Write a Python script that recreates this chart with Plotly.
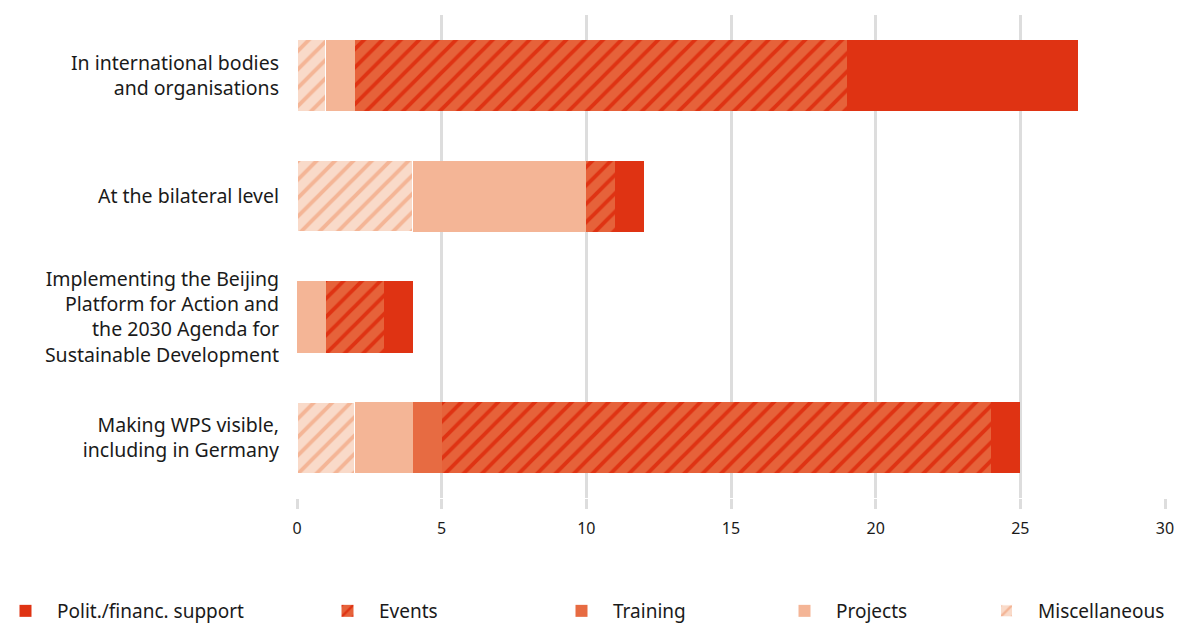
import plotly.graph_objects as go

categories = [
    "In international bodies<br>and organisations",
    "At the bilateral level",
    "Implementing the Beijing<br>Platform for Action and<br>the 2030 Agenda for<br>Sustainable Development",
    "Making WPS visible,<br>including in Germany",
]
misc = [1, 4, 0, 2]
projects = [1, 6, 1, 2]
training = [0, 0, 0, 1]
events = [17, 1, 2, 19]
polit = [8, 1, 1, 1]

x_ticks = [0, 5, 10, 15, 20, 25, 30]

FONT = "Noto Sans"

series = [
    ("Miscellaneous", misc, "#f9dac9", "#f4b596", "/", 1),
    ("Projects", projects, "#f4b596", None, "", 0),
    ("Training", training, "#e76b42", None, "", 0),
    ("Events", events, "#e6623a", "#df3313", "/", 0),
    ("Polit./financ. support", polit, "#df3313", None, "", 0),
]

# page offset of the default 8px body margin
OFF = 8
legend_pos = {
    "Polit./financ. support": ("legend", -6),
    "Events": ("legend2", 316),
    "Training": ("legend3", 550),
    "Projects": ("legend4", 773),
    "Miscellaneous": ("legend5", 975),
}

fig = go.Figure()
for name, vals, color, fg, shape, lw in series:
    marker = dict(color=color, line=dict(color="white", width=lw))
    if shape:
        marker["pattern"] = dict(shape=shape, fgcolor=fg, bgcolor=color,
                                 fgopacity=1, size=13, solidity=0.3,
                                 fillmode="overlay")
    fig.add_trace(go.Bar(
        y=categories, x=vals, name=name, orientation="h",
        marker=marker, width=0.59,
        legend=legend_pos[name][0],
    ))

W, H = 1182 - OFF, 631 - 2 * OFF
ml, mt = 297 - OFF, 15 - OFF
mr = (W + OFF) - 1165
mb = H - (498 - OFF)
pw = W - ml - mr
ph = H - mt - mb

layout_legends = {}
for name, (key, px) in legend_pos.items():
    layout_legends[key] = dict(
        x=(px - OFF - ml) / pw, xanchor="left",
        y=(mt + ph - (611 - OFF)) / ph, yanchor="middle",
        orientation="h", bgcolor="rgba(0,0,0,0)",
        font=dict(family=FONT, size=19, color="#1a1a1a"),
        itemwidth=53,
    )

fig.update_layout(
    width=W, height=H,
    margin=dict(l=ml, r=mr, t=mt, b=mb, autoexpand=False),
    barmode="stack",
    plot_bgcolor="white", paper_bgcolor="white",
    font=dict(family=FONT, size=19, color="#1a1a1a"),
    showlegend=True,
    xaxis=dict(
        range=[0, 30], tickvals=x_ticks, showgrid=True,
        gridcolor="#dddddd", gridwidth=3, zeroline=False,
        ticks="outside", ticklen=10, tickcolor="#dddddd", tickwidth=3,
        ticklabelstandoff=6, ticklabeloverflow="allow",
        tickfont=dict(family=FONT, size=16, color="#1a1a1a"),
        showline=False, fixedrange=True, automargin=False,
    ),
    yaxis=dict(
        categoryorder="array", categoryarray=categories,
        autorange="reversed", showgrid=False, ticks="",
        ticklabelstandoff=17, automargin=False,
        tickfont=dict(family=FONT, size=19.5, color="#1a1a1a"),
        showline=False,
    ),
    bargap=0.41,
    **layout_legends,
)

fig.write_html("out.html")
